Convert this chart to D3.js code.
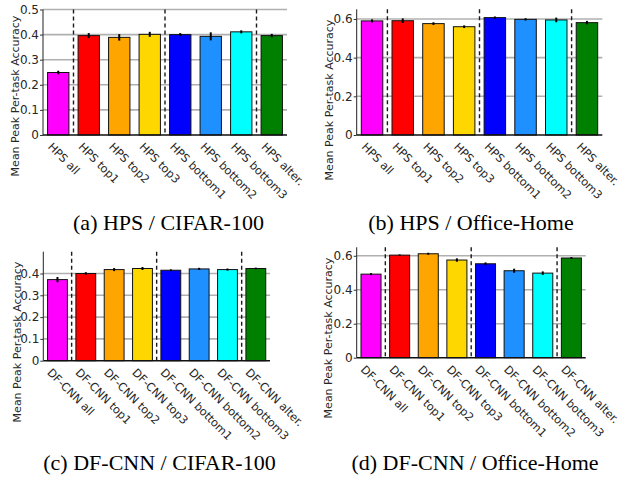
<!DOCTYPE html>
<html>
<head>
<meta charset="utf-8">
<script src="https://cdn.jsdelivr.net/npm/d3@7"></script>
<style>
  body { margin: 0; background: #fff; }
  svg { display: block; }
</style>
</head>
<body>
<div id="plot"></div>
<script>
const w = 623;
const h = 478;

const hpsCategories = ["HPS all", "HPS top1", "HPS top2", "HPS top3", "HPS bottom1", "HPS bottom2", "HPS bottom3", "HPS alter."];
const dfCategories = ["DF-CNN all", "DF-CNN top1", "DF-CNN top2", "DF-CNN top3", "DF-CNN bottom1", "DF-CNN bottom2", "DF-CNN bottom3", "DF-CNN alter."];

const hpsCifarMean = [0.249, 0.396, 0.389, 0.401, 0.400, 0.393, 0.411, 0.396];
const hpsCifarErr = [0.007, 0.010, 0.013, 0.010, 0.006, 0.016, 0.006, 0.007];
const hpsOfficeMean = [0.590, 0.591, 0.576, 0.560, 0.607, 0.598, 0.595, 0.581];
const hpsOfficeErr = [0.008, 0.012, 0.007, 0.007, 0.006, 0.006, 0.012, 0.009];
const dfCifarMean = [0.372, 0.400, 0.418, 0.423, 0.415, 0.421, 0.418, 0.423];
const dfCifarErr = [0.012, 0.006, 0.007, 0.007, 0.004, 0.005, 0.005, 0.004];
const dfOfficeMean = [0.492, 0.604, 0.612, 0.575, 0.553, 0.512, 0.498, 0.587];
const dfOfficeErr = [0.006, 0.004, 0.006, 0.010, 0.008, 0.012, 0.010, 0.006];

const ticksA = [0, 0.1, 0.2, 0.3, 0.4, 0.5];
const ticksB = [0, 0.2, 0.4, 0.6];
const ticksC = [0, 0.1, 0.2, 0.3, 0.4];
const ticksD = [0, 0.2, 0.4, 0.6];

// dashed separators sit after these category indexes
const dividers = [0, 3, 6];

const barColors = ["#ff00ff", "#ff0000", "#ffa500", "#ffd700", "#0000ff", "#1e90ff", "#00ffff", "#008000"];

const captions = ["(a) HPS / CIFAR-100", "(b) HPS / Office-Home", "(c) DF-CNN / CIFAR-100", "(d) DF-CNN / Office-Home"];

const panels = [
  { cats: hpsCategories, mean: hpsCifarMean, err: hpsCifarErr, ticks: ticksA, ymax: 0.5,
    left: 43, right: 287, top: 9.5, bottom: 135, labX: 19.3, labY: 96, capX: 168.5, capY: 230 },
  { cats: hpsCategories, mean: hpsOfficeMean, err: hpsOfficeErr, ticks: ticksB, ymax: 0.65,
    left: 356.7, right: 602.3, top: 9.3, bottom: 135, labX: 333.3, labY: 100, capX: 471, capY: 230 },
  { cats: dfCategories, mean: dfCifarMean, err: dfCifarErr, ticks: ticksC, ymax: 0.5,
    left: 43.3, right: 270, top: 251.7, bottom: 360.7, labX: 20.7, labY: 342, capX: 159.5, capY: 470 },
  { cats: dfCategories, mean: dfOfficeMean, err: dfOfficeErr, ticks: ticksD, ymax: 0.65,
    left: 356.7, right: 585.7, top: 247.3, bottom: 357.7, labX: 331.7, labY: 338, capX: 475, capY: 470 }
];

const svg = d3.select("div#plot")
  .append("svg")
  .attr("width", w)
  .attr("height", h);

const fmt = d => d === 0 ? "0" : d3.format(".1f")(d);

panels.forEach((p, k) => {
  const g = svg.append("g");

  const xScale = d3.scaleBand()
    .domain(p.cats)
    .range([p.left, p.right])
    .paddingInner(0.3)
    .paddingOuter(0.15);

  const yScale = d3.scaleLinear()
    .domain([0, p.ymax])
    .range([p.bottom, p.top]);

  // grid
  g.selectAll(".grid")
    .data(p.ticks.filter(t => t > 0))
    .enter()
    .append("line")
    .attr("x1", p.left)
    .attr("x2", p.right)
    .attr("y1", d => yScale(d))
    .attr("y2", d => yScale(d))
    .attr("stroke", "#b0b0b0")
    .attr("stroke-width", 1.6);

  const rows = p.cats.map((c, i) => ({ cat: c, mean: p.mean[i], err: p.err[i], color: barColors[i] }));

  g.selectAll(".bar")
    .data(rows)
    .enter()
    .append("rect")
    .attr("x", d => xScale(d.cat))
    .attr("y", d => yScale(d.mean))
    .attr("width", xScale.bandwidth())
    .attr("height", d => p.bottom - yScale(d.mean))
    .attr("fill", d => d.color)
    .attr("stroke", "#111")
    .attr("stroke-width", 1);

  g.selectAll(".err")
    .data(rows)
    .enter()
    .append("line")
    .attr("x1", d => xScale(d.cat) + xScale.bandwidth() / 2)
    .attr("x2", d => xScale(d.cat) + xScale.bandwidth() / 2)
    .attr("y1", d => yScale(d.mean - d.err))
    .attr("y2", d => yScale(d.mean + d.err))
    .attr("stroke", "#000")
    .attr("stroke-width", 2);

  const step = xScale.step();
  g.selectAll(".divider")
    .data(dividers)
    .enter()
    .append("line")
    .attr("x1", i => xScale(p.cats[i]) + xScale.bandwidth() / 2 + step / 2)
    .attr("x2", i => xScale(p.cats[i]) + xScale.bandwidth() / 2 + step / 2)
    .attr("y1", p.top)
    .attr("y2", p.bottom)
    .attr("stroke", "#1a1a1a")
    .attr("stroke-width", 1.4)
    .attr("stroke-dasharray", "4,3");

  // axes
  const yAxis = d3.axisLeft(yScale).tickValues(p.ticks).tickSize(3).tickFormat(fmt);
  const yg = g.append("g")
    .attr("transform", `translate(${p.left},0)`)
    .call(yAxis);
  yg.select(".domain").attr("d", `M0,${p.top}V${p.bottom}`).attr("stroke", "#222");
  yg.selectAll(".tick line").attr("stroke", "#333");
  yg.selectAll(".tick text")
    .attr("font-family", "DejaVu Sans, sans-serif")
    .attr("font-size", "12px")
    .attr("fill", "#262626")
    .attr("x", -4);

  g.append("line")
    .attr("x1", p.left)
    .attr("x2", p.right)
    .attr("y1", p.bottom)
    .attr("y2", p.bottom)
    .attr("stroke", "#111")
    .attr("stroke-width", 1.5);

  g.selectAll(".xlab")
    .data(p.cats)
    .enter()
    .append("text")
    .attr("transform", d => `translate(${xScale(d) + xScale.bandwidth() / 2 - 11},${p.bottom + 12.5}) rotate(45)`)
    .attr("font-family", "DejaVu Sans, sans-serif")
    .attr("font-size", "11.3px")
    .attr("fill", "#262626")
    .text(d => d);

  g.append("text")
    .attr("transform", `translate(${p.labX},${p.labY}) rotate(-90)`)
    .attr("text-anchor", "middle")
    .attr("font-family", "DejaVu Sans, sans-serif")
    .attr("font-size", "11px")
    .attr("fill", "#262626")
    .text("Mean Peak Per-task Accuracy");

  svg.append("text")
    .attr("x", p.capX)
    .attr("y", p.capY)
    .attr("text-anchor", "middle")
    .attr("font-family", "Liberation Serif, Times New Roman, serif")
    .attr("font-size", "22px")
    .attr("fill", "#000")
    .text(captions[k]);
});
</script>
</body>
</html>
